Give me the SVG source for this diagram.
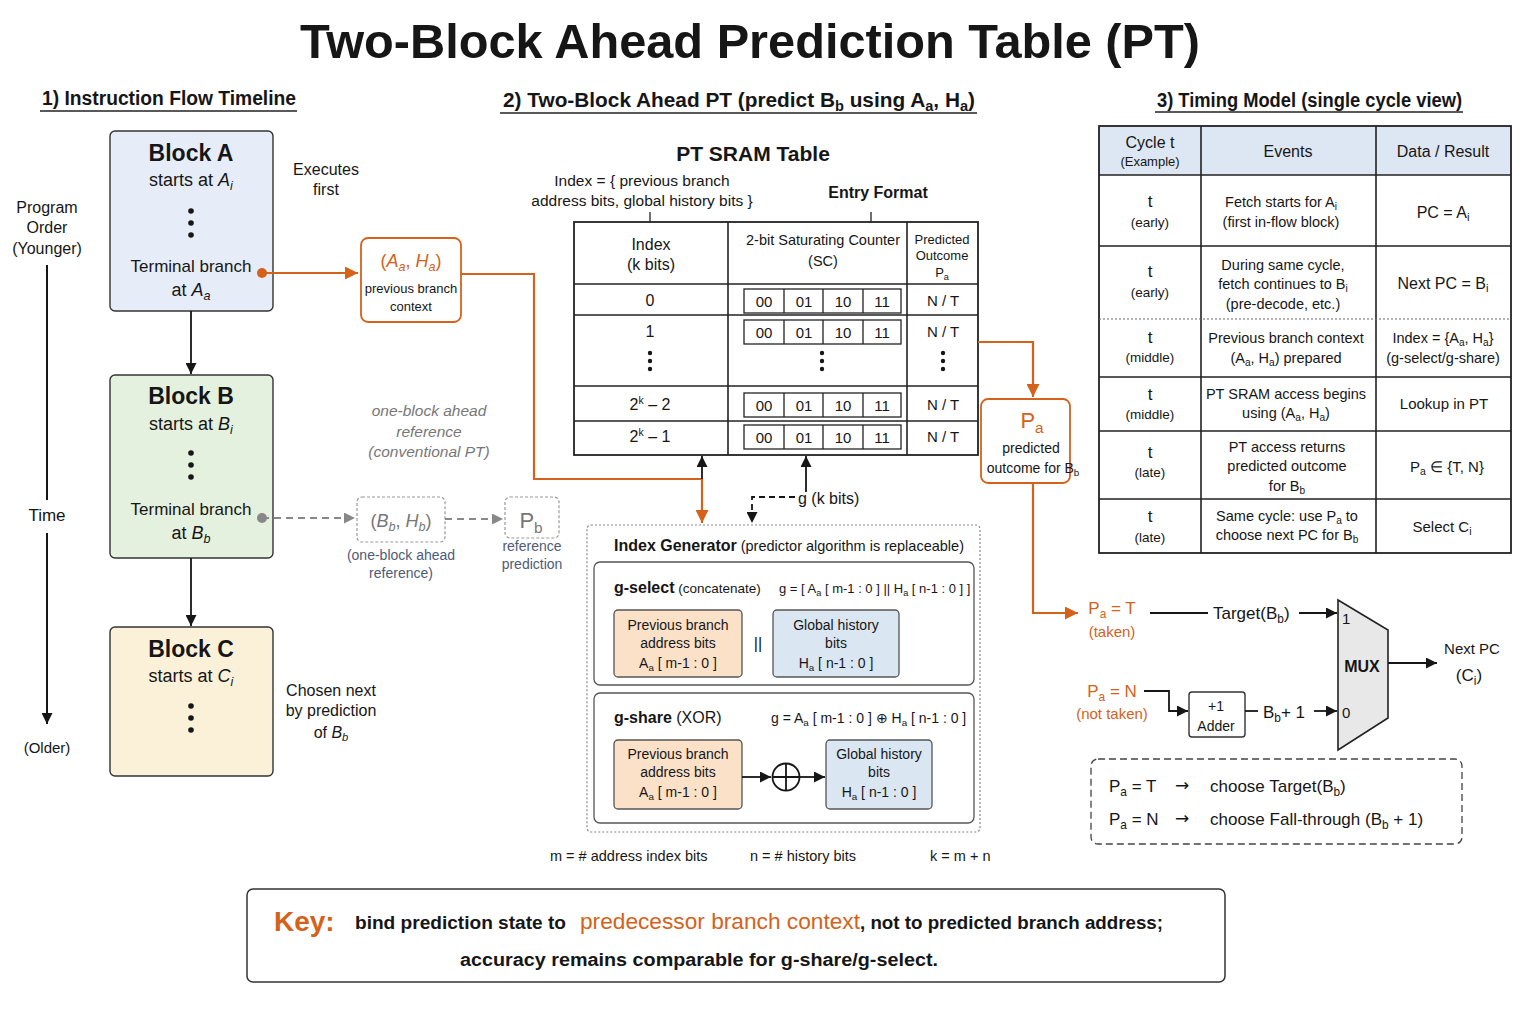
<svg xmlns="http://www.w3.org/2000/svg" width="1536" height="1024" viewBox="0 0 1536 1024">
<defs>
<style>
text{font-family:"Liberation Sans",Arial,sans-serif;fill:#161616}
.b{font-weight:bold}
.i{font-style:italic}
.o{fill:#d4621b}
.g{fill:#777}
.sl{fill:#4d5b78}
.m{text-anchor:middle}
.s{font-size:70%;baseline-shift:-0.3em}
.sup{font-size:65%;baseline-shift:0.6em}
.box{stroke:#333;stroke-width:1.4}
.ln{stroke:#161616;stroke-width:1.8;fill:none}
.ol{stroke:#d4621b;stroke-width:2.2;fill:none}
.gl{stroke:#888;stroke-width:2;fill:none;stroke-dasharray:7 5}
.tb{stroke:#222;stroke-width:1.6;fill:none}
.arr{font-family:"DejaVu Sans",sans-serif}
</style>
<marker id="ah" viewBox="0 0 10 10" refX="10" refY="5" markerWidth="11" markerHeight="11" markerUnits="userSpaceOnUse" orient="auto"><path d="M0,0 L10,5 L0,10 z" fill="#161616"/></marker>
<marker id="ao" viewBox="0 0 10 10" refX="10" refY="5" markerWidth="13" markerHeight="13" markerUnits="userSpaceOnUse" orient="auto"><path d="M0,0 L10,5 L0,10 z" fill="#d4621b"/></marker>
<marker id="ag" viewBox="0 0 10 10" refX="10" refY="5" markerWidth="11" markerHeight="11" markerUnits="userSpaceOnUse" orient="auto"><path d="M0,0 L10,5 L0,10 z" fill="#888"/></marker>
</defs>
<rect width="1536" height="1024" fill="#fff"/>

<!-- Title -->
<text class="b m" x="750" y="58" font-size="48" textLength="900" lengthAdjust="spacingAndGlyphs">Two-Block Ahead Prediction Table (PT)</text>

<!-- Section headers -->
<g id="headers">
<text class="b" x="42" y="105" font-size="20" textLength="254" lengthAdjust="spacingAndGlyphs">1) Instruction Flow Timeline</text>
<line x1="40" y1="111" x2="297" y2="111" stroke="#222" stroke-width="1.3"/>
<text class="b" x="503" y="107" font-size="20" textLength="472" lengthAdjust="spacingAndGlyphs">2) Two-Block Ahead PT (predict B<tspan class="s">b</tspan> using A<tspan class="s">a</tspan>, H<tspan class="s">a</tspan>)</text>
<line x1="500" y1="113" x2="977" y2="113" stroke="#222" stroke-width="1.3"/>
<text class="b" x="1157" y="107" font-size="20" textLength="305" lengthAdjust="spacingAndGlyphs">3) Timing Model (single cycle view)</text>
<line x1="1155" y1="112" x2="1463" y2="112" stroke="#222" stroke-width="1.3"/>
</g>

<!-- Timeline axis -->
<g id="timeline">
<text class="m" x="47" y="213" font-size="16">Program</text>
<text class="m" x="47" y="233" font-size="16">Order</text>
<text class="m" x="47" y="254" font-size="16">(Younger)</text>
<line x1="47" y1="265" x2="47" y2="500" stroke="#161616" stroke-width="2"/>
<text class="m" x="47" y="521" font-size="17">Time</text>
<line x1="47" y1="533" x2="47" y2="724" stroke="#161616" stroke-width="2" marker-end="url(#ah)"/>
<text class="m" x="47" y="753" font-size="15">(Older)</text>
</g>

<!-- Blocks -->
<g id="blockA">
<rect x="110" y="131" width="163" height="180" rx="5" fill="#e6edf8" class="box"/>
<text class="b m" x="191" y="161" font-size="23">Block A</text>
<text class="m" x="191" y="186" font-size="18">starts at  <tspan class="i">A<tspan class="s">i</tspan></tspan></text>
<circle cx="191" cy="211" r="2.8" fill="#161616"/><circle cx="191" cy="223" r="2.8" fill="#161616"/><circle cx="191" cy="235" r="2.8" fill="#161616"/>
<text class="m" x="191" y="272" font-size="17">Terminal branch</text>
<text class="m" x="191" y="296" font-size="18">at  <tspan class="i">A<tspan class="s">a</tspan></tspan></text>
</g>
<g id="blockB">
<rect x="110" y="375" width="163" height="183" rx="5" fill="#e5f1df" class="box"/>
<text class="b m" x="191" y="404" font-size="23">Block B</text>
<text class="m" x="191" y="430" font-size="18">starts at  <tspan class="i">B<tspan class="s">i</tspan></tspan></text>
<circle cx="191" cy="453" r="2.8" fill="#161616"/><circle cx="191" cy="465" r="2.8" fill="#161616"/><circle cx="191" cy="477" r="2.8" fill="#161616"/>
<text class="m" x="191" y="515" font-size="17">Terminal branch</text>
<text class="m" x="191" y="539" font-size="18">at  <tspan class="i">B<tspan class="s">b</tspan></tspan></text>
</g>
<g id="blockC">
<rect x="110" y="627" width="163" height="149" rx="5" fill="#fbf1d9" class="box"/>
<text class="b m" x="191" y="657" font-size="23">Block C</text>
<text class="m" x="191" y="682" font-size="18">starts at  <tspan class="i">C<tspan class="s">i</tspan></tspan></text>
<circle cx="191" cy="706" r="2.8" fill="#161616"/><circle cx="191" cy="718" r="2.8" fill="#161616"/><circle cx="191" cy="730" r="2.8" fill="#161616"/>
</g>
<g id="sidenotes">
<text class="m" x="326" y="175" font-size="16">Executes</text>
<text class="m" x="326" y="195" font-size="16">first</text>
<text class="m" x="331" y="696" font-size="16">Chosen next</text>
<text class="m" x="331" y="716" font-size="16">by prediction</text>
<text class="m" x="331" y="738" font-size="16">of <tspan class="i">B<tspan class="s">b</tspan></tspan></text>
<text class="m i g" x="429" y="416" font-size="15.5">one-block ahead</text>
<text class="m i g" x="429" y="437" font-size="15.5">reference</text>
<text class="m i g" x="429" y="457" font-size="15.5">(conventional PT)</text>
</g>

<!-- Context node -->
<g id="ctxA">
<rect x="361" y="238" width="100" height="84" rx="7" fill="#fff" stroke="#d4621b" stroke-width="1.8"/>
<text class="m o" x="411" y="267" font-size="18">(<tspan class="i">A<tspan class="s">a</tspan></tspan>, <tspan class="i">H<tspan class="s">a</tspan></tspan>)</text>
<text class="m" x="411" y="293" font-size="13">previous branch</text>
<text class="m" x="411" y="311" font-size="13">context</text>
</g>
<g id="ctxB">
<rect x="357" y="497" width="88" height="45" rx="5" fill="#fff" stroke="#999" stroke-width="1.2" stroke-dasharray="3 2"/>
<text class="m g" x="401" y="527" font-size="18">(<tspan class="i">B<tspan class="s">b</tspan></tspan>, <tspan class="i">H<tspan class="s">b</tspan></tspan>)</text>
<text class="m sl" x="401" y="560" font-size="14">(one-block ahead</text>
<text class="m sl" x="401" y="578" font-size="14">reference)</text>
</g>
<g id="Pb">
<rect x="505" y="497" width="54" height="41" rx="5" fill="#fff" stroke="#999" stroke-width="1.2" stroke-dasharray="3 2"/>
<text class="m g" x="531" y="528" font-size="22">P<tspan class="s">b</tspan></text>
<text class="m sl" x="532" y="551" font-size="14">reference</text>
<text class="m sl" x="532" y="569" font-size="14">prediction</text>
</g>

<!-- PT SRAM table -->
<g id="ptTable">
<text class="b m" x="753" y="161" font-size="21">PT SRAM Table</text>
<text class="m" x="642" y="186" font-size="15.5">Index = { previous branch</text>
<text class="m" x="642" y="206" font-size="15.5">address bits, global history bits }</text>
<line x1="650" y1="212" x2="650" y2="222" stroke="#222" stroke-width="1.3"/>
<text class="m b" x="878" y="198" font-size="16">Entry Format</text>
<line x1="871" y1="212" x2="871" y2="222" stroke="#222" stroke-width="1.3"/>
<rect x="574" y="222" width="404" height="233" fill="#fff" stroke="#222" stroke-width="1.8"/>
<line x1="728" y1="222" x2="728" y2="455" class="tb"/>
<line x1="907" y1="222" x2="907" y2="455" class="tb"/>
<line x1="574" y1="284" x2="978" y2="284" class="tb"/>
<line x1="574" y1="315" x2="978" y2="315" class="tb"/>
<line x1="574" y1="386" x2="978" y2="386" class="tb"/>
<line x1="574" y1="421" x2="978" y2="421" class="tb"/>
<text class="m" x="651" y="250" font-size="16">Index</text>
<text class="m" x="651" y="270" font-size="16">(k bits)</text>
<text class="m" x="823" y="245" font-size="14.5">2-bit Saturating Counter</text>
<text class="m" x="823" y="266" font-size="14.5">(SC)</text>
<text class="m" x="942" y="244" font-size="13">Predicted</text>
<text class="m" x="942" y="260" font-size="13">Outcome</text>
<text class="m" x="942" y="277" font-size="13">P<tspan class="s">a</tspan></text>
<text class="m" x="650" y="306" font-size="16">0</text>
<text class="m" x="650" y="337" font-size="16">1</text>
<text class="m" x="650" y="410" font-size="16">2<tspan class="sup">k</tspan> – 2</text>
<text class="m" x="650" y="442" font-size="16">2<tspan class="sup">k</tspan> – 1</text>
<g fill="#161616">
<circle cx="650" cy="353" r="2.2"/><circle cx="650" cy="361" r="2.2"/><circle cx="650" cy="369" r="2.2"/>
<circle cx="822" cy="353" r="2.2"/><circle cx="822" cy="361" r="2.2"/><circle cx="822" cy="369" r="2.2"/>
<circle cx="943" cy="353" r="2.2"/><circle cx="943" cy="361" r="2.2"/><circle cx="943" cy="369" r="2.2"/>
</g>
<g fill="#fff" stroke="#222" stroke-width="1.3">
<rect x="744" y="289" width="157" height="24"/><rect x="744" y="320" width="157" height="24"/><rect x="744" y="393" width="157" height="24"/><rect x="744" y="425" width="157" height="24"/>
</g>
<g stroke="#222" stroke-width="1.3">
<path d="M784,289V313M823,289V313M863,289V313M784,320V344M823,320V344M863,320V344M784,393V417M823,393V417M863,393V417M784,425V449M823,425V449M863,425V449"/>
</g>
<g font-size="15">
<text class="m" x="764" y="307">00</text><text class="m" x="804" y="307">01</text><text class="m" x="843" y="307">10</text><text class="m" x="882" y="307">11</text>
<text class="m" x="764" y="338">00</text><text class="m" x="804" y="338">01</text><text class="m" x="843" y="338">10</text><text class="m" x="882" y="338">11</text>
<text class="m" x="764" y="411">00</text><text class="m" x="804" y="411">01</text><text class="m" x="843" y="411">10</text><text class="m" x="882" y="411">11</text>
<text class="m" x="764" y="443">00</text><text class="m" x="804" y="443">01</text><text class="m" x="843" y="443">10</text><text class="m" x="882" y="443">11</text>
</g>
<g font-size="15">
<text class="m" x="943" y="306">N / T</text><text class="m" x="943" y="337">N / T</text><text class="m" x="943" y="410">N / T</text><text class="m" x="943" y="442">N / T</text>
</g>
</g>

<!-- Pa node -->
<g id="PaNode">
<rect x="981" y="399" width="89" height="84" rx="7" fill="#fff" stroke="#d4621b" stroke-width="1.8"/>
<text class="m o" x="1032" y="428" font-size="22">P<tspan class="s">a</tspan></text>
<text class="m" x="1031" y="453" font-size="14">predicted</text>
<text class="m" x="1033" y="473" font-size="14">outcome for B<tspan class="s">b</tspan></text>
</g>

<!-- Index generator -->
<g id="indexGen">
<rect x="587" y="525" width="393" height="307" rx="4" fill="#fff" stroke="#888" stroke-width="1.2" stroke-dasharray="2 2"/>
<text x="614" y="551" font-size="16"><tspan class="b">Index Generator</tspan><tspan font-size="14.5">  (predictor algorithm is replaceable)</tspan></text>
<rect x="594" y="562" width="380" height="123" rx="6" fill="#fff" stroke="#555" stroke-width="1.3"/>
<text x="614" y="593" font-size="16"><tspan class="b">g-select</tspan><tspan font-size="13.5"> (concatenate)</tspan></text>
<text x="779" y="593" font-size="13">g = [ A<tspan class="s">a</tspan> [ m-1 : 0 ] || H<tspan class="s">a</tspan> [ n-1 : 0 ] ]</text>
<rect x="614" y="610" width="128" height="67" rx="4" fill="#fbe1c8" stroke="#555" stroke-width="1.3"/>
<text class="m" x="678" y="630" font-size="14">Previous branch</text>
<text class="m" x="678" y="648" font-size="14">address bits</text>
<text class="m" x="678" y="668" font-size="14">A<tspan class="s">a</tspan> [ m-1 : 0 ]</text>
<text class="m" x="758" y="649" font-size="16">||</text>
<rect x="773" y="610" width="126" height="67" rx="4" fill="#dbe6f3" stroke="#555" stroke-width="1.3"/>
<text class="m" x="836" y="630" font-size="14">Global history</text>
<text class="m" x="836" y="648" font-size="14">bits</text>
<text class="m" x="836" y="668" font-size="14">H<tspan class="s">a</tspan> [ n-1 : 0 ]</text>
<rect x="594" y="693" width="380" height="130" rx="6" fill="#fff" stroke="#555" stroke-width="1.3"/>
<text x="614" y="723" font-size="16"><tspan class="b">g-share</tspan> (XOR)</text>
<text x="771" y="723" font-size="14">g = A<tspan class="s">a</tspan> [ m-1 : 0 ] ⊕ H<tspan class="s">a</tspan> [ n-1 : 0 ]</text>
<rect x="614" y="740" width="128" height="69" rx="4" fill="#fbe1c8" stroke="#555" stroke-width="1.3"/>
<text class="m" x="678" y="759" font-size="14">Previous branch</text>
<text class="m" x="678" y="777" font-size="14">address bits</text>
<text class="m" x="678" y="797" font-size="14">A<tspan class="s">a</tspan> [ m-1 : 0 ]</text>
<circle cx="786" cy="777" r="13.5" fill="#fff" stroke="#161616" stroke-width="1.8"/>
<path d="M772.5,777H799.5M786,763.5V790.5" stroke="#161616" stroke-width="1.8"/>
<rect x="826" y="740" width="106" height="69" rx="4" fill="#dbe6f3" stroke="#555" stroke-width="1.3"/>
<text class="m" x="879" y="759" font-size="14">Global history</text>
<text class="m" x="879" y="777" font-size="14">bits</text>
<text class="m" x="879" y="797" font-size="14">H<tspan class="s">a</tspan> [ n-1 : 0 ]</text>
</g>
<g id="notes">
<text x="550" y="861" font-size="14.5">m = # address index bits</text>
<text x="750" y="861" font-size="14.5">n = # history bits</text>
<text x="930" y="861" font-size="14.5">k = m + n</text>
<text x="798" y="504" font-size="16">g  (k bits)</text>
</g>

<!-- Timing table -->
<g id="timingTable">
<rect x="1099" y="126" width="412" height="49" fill="#dde6f3"/>
<rect x="1099" y="126" width="412" height="427" fill="none" stroke="#222" stroke-width="1.8"/>
<path d="M1201,126V553M1376,126V553M1099,175H1511M1099,246H1511M1099,377H1511M1099,431H1511M1099,499H1511" class="tb"/>
<line x1="1099" y1="319" x2="1511" y2="319" stroke="#666" stroke-width="1.2" stroke-dasharray="2 2"/>
<text class="m" x="1150" y="148" font-size="16">Cycle t</text>
<text class="m" x="1150" y="166" font-size="13">(Example)</text>
<text class="m" x="1288" y="157" font-size="16">Events</text>
<text class="m" x="1443" y="157" font-size="16">Data / Result</text>
<g font-size="14.5">
<text class="m" x="1150" y="207" font-size="17">t</text><text class="m" x="1150" y="227" font-size="13.5">(early)</text>
<text class="m" x="1281" y="207">Fetch starts for A<tspan class="s">i</tspan></text>
<text class="m" x="1281" y="227">(first in-flow block)</text>
<text class="m" x="1443" y="218" font-size="16">PC = A<tspan class="s">i</tspan></text>
<text class="m" x="1150" y="277" font-size="17">t</text><text class="m" x="1150" y="297" font-size="13.5">(early)</text>
<text class="m" x="1283" y="270">During same cycle,</text>
<text class="m" x="1283" y="289">fetch continues to B<tspan class="s">i</tspan></text>
<text class="m" x="1283" y="309">(pre-decode, etc.)</text>
<text class="m" x="1443" y="289" font-size="16">Next PC = B<tspan class="s">i</tspan></text>
<text class="m" x="1150" y="343" font-size="17">t</text><text class="m" x="1150" y="362" font-size="13.5">(middle)</text>
<text class="m" x="1286" y="343">Previous branch context</text>
<text class="m" x="1286" y="363">(A<tspan class="s">a</tspan>, H<tspan class="s">a</tspan>) prepared</text>
<text class="m" x="1443" y="343">Index = {A<tspan class="s">a</tspan>, H<tspan class="s">a</tspan>}</text>
<text class="m" x="1443" y="363">(g-select/g-share)</text>
<text class="m" x="1150" y="400" font-size="17">t</text><text class="m" x="1150" y="419" font-size="13.5">(middle)</text>
<text class="m" x="1286" y="399">PT SRAM access begins</text>
<text class="m" x="1286" y="418">using (A<tspan class="s">a</tspan>, H<tspan class="s">a</tspan>)</text>
<text class="m" x="1444" y="409" font-size="15">Lookup in PT</text>
<text class="m" x="1150" y="458" font-size="17">t</text><text class="m" x="1150" y="477" font-size="13.5">(late)</text>
<text class="m" x="1287" y="452">PT access returns</text>
<text class="m" x="1287" y="471">predicted outcome</text>
<text class="m" x="1287" y="491">for B<tspan class="s">b</tspan></text>
<text class="m" x="1447" y="472" font-size="15">P<tspan class="s">a</tspan> ∈ {T, N}</text>
<text class="m" x="1150" y="522" font-size="17">t</text><text class="m" x="1150" y="542" font-size="13.5">(late)</text>
<text class="m" x="1287" y="521">Same cycle: use P<tspan class="s">a</tspan> to</text>
<text class="m" x="1287" y="540">choose next PC for B<tspan class="s">b</tspan></text>
<text class="m" x="1442" y="532" font-size="15">Select C<tspan class="s">i</tspan></text>
</g>
</g>

<!-- MUX section -->
<g id="mux">
<path d="M1338,600 L1388,630 L1388,718 L1338,750 Z" fill="#e8e8e8" stroke="#222" stroke-width="1.6"/>
<text class="b m" x="1362" y="672" font-size="16">MUX</text>
<text x="1342" y="624" font-size="15">1</text>
<text x="1342" y="718" font-size="15">0</text>
</g>
<g id="adder">
<rect x="1189" y="692" width="56" height="45" rx="3" fill="#fff" stroke="#333" stroke-width="1.4"/>
<text class="m" x="1216" y="711" font-size="14">+1</text>
<text class="m" x="1216" y="731" font-size="14">Adder</text>
</g>
<g id="muxLabels">
<text class="m o" x="1112" y="614" font-size="17">P<tspan class="s">a</tspan> = T</text>
<text class="m o" x="1112" y="637" font-size="15">(taken)</text>
<text class="m o" x="1112" y="697" font-size="17">P<tspan class="s">a</tspan> = N</text>
<text class="m o" x="1112" y="719" font-size="15">(not taken)</text>
<text x="1213" y="619" font-size="17">Target(B<tspan class="s">b</tspan>)</text>
<text x="1263" y="718" font-size="17">B<tspan class="s">b</tspan>+ 1</text>
<text class="m" x="1472" y="654" font-size="15">Next PC</text>
<text class="m" x="1469" y="681" font-size="17">(C<tspan class="s">i</tspan>)</text>
</g>
<g id="rules">
<rect x="1091" y="759" width="371" height="85" rx="7" fill="none" stroke="#444" stroke-width="1.3" stroke-dasharray="7 4"/>
<text x="1109" y="792" font-size="17">P<tspan class="s">a</tspan> = T</text>
<text class="arr" x="1175" y="791" font-size="17">→</text>
<text x="1210" y="792" font-size="17">choose Target(B<tspan class="s">b</tspan>)</text>
<text x="1109" y="825" font-size="17">P<tspan class="s">a</tspan> = N</text>
<text class="arr" x="1175" y="824" font-size="17">→</text>
<text x="1210" y="825" font-size="17">choose Fall-through (B<tspan class="s">b</tspan> + 1)</text>
</g>

<!-- Key -->
<g id="key">
<rect x="247" y="889" width="978" height="93" rx="6" fill="#fff" stroke="#333" stroke-width="1.5"/>
<text class="o b" x="274" y="931" font-size="28">Key:</text>
<text class="b" x="355" y="929" font-size="18" textLength="211" lengthAdjust="spacingAndGlyphs">bind prediction state to</text>
<text class="o" x="580" y="929" font-size="22" textLength="280" lengthAdjust="spacingAndGlyphs">predecessor branch context</text>
<text class="b" x="860" y="929" font-size="18" textLength="303" lengthAdjust="spacingAndGlyphs">, not to predicted branch address;</text>
<text class="b" x="460" y="966" font-size="18" textLength="478" lengthAdjust="spacingAndGlyphs">accuracy remains comparable for g-share/g-select.</text>
</g>

<!-- Connectors -->
<g id="connectors">
<line x1="191" y1="311" x2="191" y2="374" class="ln" marker-end="url(#ah)"/>
<line x1="191" y1="558" x2="191" y2="626" class="ln" marker-end="url(#ah)"/>
<circle cx="262" cy="273" r="5" fill="#d4621b"/>
<line x1="262" y1="273" x2="358" y2="273" class="ol" marker-end="url(#ao)"/>
<circle cx="262" cy="518" r="5" fill="#888"/>
<line x1="262" y1="518" x2="355" y2="518" class="gl" marker-end="url(#ag)"/>
<line x1="445" y1="519" x2="503" y2="519" class="gl" marker-end="url(#ag)"/>
<path d="M461,274 H534 V479 H702 V523" class="ol" marker-end="url(#ao)"/>
<line x1="702" y1="479" x2="702" y2="456" class="ln" marker-end="url(#ah)"/>
<line x1="806" y1="492" x2="806" y2="456" class="ln" marker-end="url(#ah)"/>
<path d="M795,497 H752 V523" fill="none" stroke="#161616" stroke-width="1.8" stroke-dasharray="6 4" marker-end="url(#ah)"/>
<path d="M978,342 H1033 V397" class="ol" marker-end="url(#ao)"/>
<path d="M1033,483 V613 H1078" class="ol" marker-end="url(#ao)"/>
<line x1="742" y1="777" x2="771" y2="777" class="ln" marker-end="url(#ah)"/>
<line x1="800" y1="777" x2="825" y2="777" class="ln" marker-end="url(#ah)"/>
<line x1="1150" y1="613" x2="1208" y2="613" class="ln"/>
<line x1="1299" y1="613" x2="1337" y2="613" class="ln" marker-end="url(#ah)"/>
<path d="M1144,691 H1169 V711 H1188" class="ln" marker-end="url(#ah)"/>
<line x1="1245" y1="711" x2="1258" y2="711" class="ln"/>
<line x1="1314" y1="711" x2="1337" y2="711" class="ln" marker-end="url(#ah)"/>
<line x1="1388" y1="663" x2="1437" y2="663" class="ln" marker-end="url(#ah)"/>
</g>
</svg>
